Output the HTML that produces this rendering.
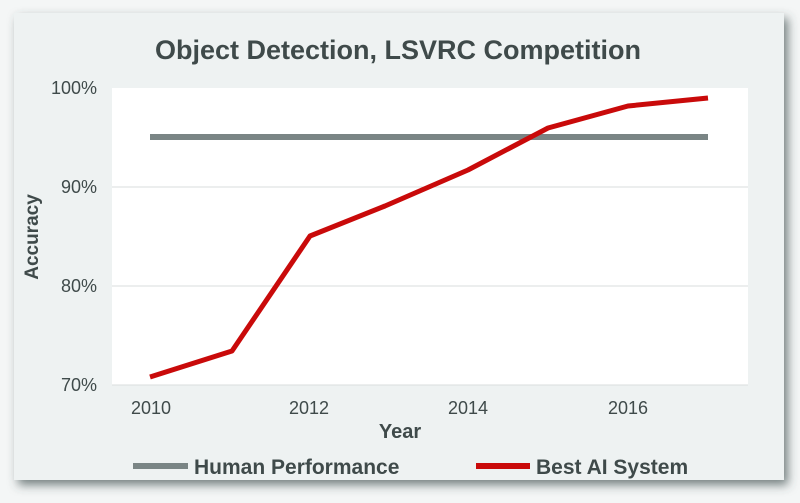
<!DOCTYPE html>
<html><head><style>
body{margin:0;width:800px;height:498px;background:#f4f6f6;overflow:hidden;font-family:"Liberation Sans",sans-serif}
</style></head><body>
<svg width="800" height="498" viewBox="0 0 800 498">
<defs><filter id="s" x="-5%" y="-5%" width="110%" height="115%"><feDropShadow dx="4" dy="5" stdDeviation="5" flood-color="#3f5050" flood-opacity="0.7"/></filter></defs>
<rect x="14" y="13" width="770" height="467" fill="#eef2f2" filter="url(#s)"/>
<text x="398" y="59" text-anchor="middle" font-size="27" font-weight="bold" fill="#3f4a4a">Object Detection, LSVRC Competition</text>
<rect x="112" y="88" width="636" height="297" fill="#fff"/>
<g stroke="#d9dddd" stroke-width="1">
<line x1="112" y1="187" x2="748" y2="187"/><line x1="112" y1="286" x2="748" y2="286"/><line x1="112" y1="385" x2="748" y2="385"/>
</g>
<g font-size="18" fill="#3f4a4a" text-anchor="end">
<text x="97" y="94">100%</text><text x="97" y="193">90%</text><text x="97" y="292">80%</text><text x="97" y="391">70%</text>
</g>
<g font-size="18" fill="#3f4a4a" text-anchor="middle">
<text x="151" y="414">2010</text><text x="309" y="414">2012</text><text x="468" y="414">2014</text><text x="628" y="414">2016</text>
</g>
<text x="400" y="438" text-anchor="middle" font-size="20" font-weight="bold" fill="#3f4a4a">Year</text>
<text transform="translate(38,237) rotate(-90)" text-anchor="middle" font-size="19" font-weight="bold" fill="#3f4a4a">Accuracy</text>
<line x1="150" y1="137" x2="708" y2="137" stroke="#7a8585" stroke-width="6"/>
<polyline points="150,377 232,351 310,236 385,206 468,170 548,128 628,106 708,98" fill="none" stroke="#c90a0a" stroke-width="5" stroke-linejoin="round"/>
<line x1="133" y1="466" x2="188" y2="466" stroke="#7a8585" stroke-width="6"/>
<text x="194" y="474" font-size="21" font-weight="bold" fill="#3f4a4a">Human Performance</text>
<line x1="476" y1="466" x2="530" y2="466" stroke="#c90a0a" stroke-width="6"/>
<text x="536" y="474" font-size="21" font-weight="bold" fill="#3f4a4a">Best AI System</text>
</svg>
</body></html>
